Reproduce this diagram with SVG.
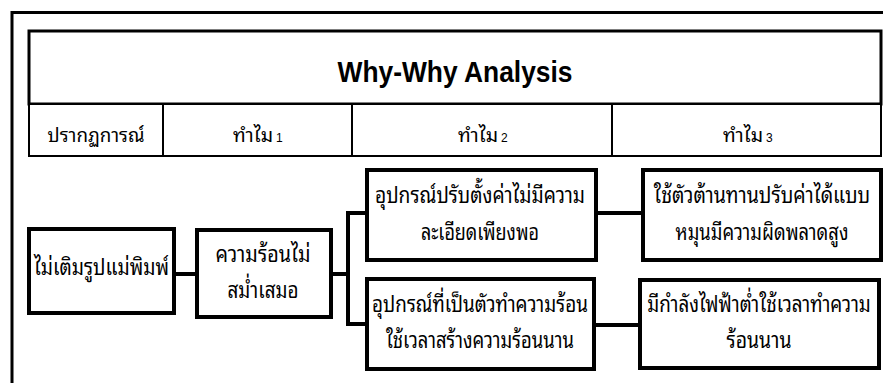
<svg xmlns="http://www.w3.org/2000/svg" width="883" height="383" viewBox="0 0 883 383">
<style>
.frame{fill:none;stroke:#000;stroke-width:3}
.hd{fill:#fff;stroke:#000;stroke-width:2}
.box{fill:#fff;stroke:#000;stroke-width:4}
.ln{fill:none;stroke:#000;stroke-width:4}
.title{font-family:"Liberation Sans",Arial,sans-serif;font-weight:bold;font-size:30px;fill:#000}
.th{font-family:"Noto Sans Thai Looped","Noto Sans Thai","Tlwg Typo","Loma","Garuda","Noto Sans","DejaVu Sans",sans-serif;font-size:20px;fill:#000}
.sub{font-family:"Liberation Sans",Arial,sans-serif;font-size:12px;fill:#000}
.tx{font-family:"Noto Sans Thai Looped","Noto Sans Thai","Tlwg Typo","Loma","Garuda","Noto Sans","DejaVu Sans",sans-serif;font-size:23px;fill:#000}
</style>
<rect width="883" height="383" fill="#fff"/>
<path class="frame" d="M12 390 V12.5 H890"/>
<g id="title">
<rect x="29" y="31" width="852" height="73" fill="#fff" stroke="#000" stroke-width="3"/>
<text class="title" x="455" y="82" text-anchor="middle" textLength="235" lengthAdjust="spacingAndGlyphs">Why-Why Analysis</text>
</g>
<g id="header">
<rect class="hd" x="29" y="104" width="852" height="52"/>
<line x1="163" y1="104" x2="163" y2="156" stroke="#000" stroke-width="2"/>
<line x1="352" y1="104" x2="352" y2="156" stroke="#000" stroke-width="2"/>
<line x1="612" y1="104" x2="612" y2="156" stroke="#000" stroke-width="2"/>
<text class="th" x="96" y="142" text-anchor="middle" textLength="97" lengthAdjust="spacingAndGlyphs">ปรากฏการณ์</text>
<text class="th" x="233" y="142" textLength="40" lengthAdjust="spacingAndGlyphs">ทำไม</text><text class="sub" x="276" y="142">1</text>
<text class="th" x="458" y="142" textLength="40" lengthAdjust="spacingAndGlyphs">ทำไม</text><text class="sub" x="501" y="142">2</text>
<text class="th" x="723" y="142" textLength="40" lengthAdjust="spacingAndGlyphs">ทำไม</text><text class="sub" x="766" y="142">3</text>
</g>
<g id="connectors">
<line class="ln" x1="174" y1="274" x2="197" y2="274"/>
<line class="ln" x1="331" y1="274" x2="348" y2="274"/>
<path class="ln" d="M367 213 H348 V324 H367"/>
<line class="ln" x1="596" y1="213" x2="643" y2="213"/>
<line class="ln" x1="594" y1="325" x2="640" y2="325"/>
</g>
<g id="n1">
<rect class="box" x="29" y="229" width="145" height="84"/>
<text class="tx" x="101.5" y="275" text-anchor="middle" textLength="135" lengthAdjust="spacingAndGlyphs">ไม่เติมรูปแม่พิมพ์</text>
</g>
<g id="n2">
<rect class="box" x="197" y="230" width="134" height="87"/>
<text class="tx" x="263" y="262" text-anchor="middle" textLength="95" lengthAdjust="spacingAndGlyphs">ความร้อนไม่</text>
<text class="tx" x="263" y="298" text-anchor="middle" textLength="71" lengthAdjust="spacingAndGlyphs">สม่ำเสมอ</text>
</g>
<g id="n3">
<rect class="box" x="367" y="170" width="229" height="90"/>
<text class="tx" x="480" y="203" text-anchor="middle" textLength="210" lengthAdjust="spacingAndGlyphs">อุปกรณ์ปรับตั้งค่าไม่มีความ</text>
<text class="tx" x="480" y="240" text-anchor="middle" textLength="118" lengthAdjust="spacingAndGlyphs">ละเอียดเพียงพอ</text>
</g>
<g id="n4">
<rect class="box" x="367" y="279" width="227" height="90"/>
<text class="tx" x="480" y="312" text-anchor="middle" textLength="216" lengthAdjust="spacingAndGlyphs">อุปกรณ์ที่เป็นตัวทำความร้อน</text>
<text class="tx" x="480" y="348" text-anchor="middle" textLength="188" lengthAdjust="spacingAndGlyphs">ใช้เวลาสร้างความร้อนนาน</text>
</g>
<g id="n5">
<rect class="box" x="643" y="170" width="238" height="90"/>
<text class="tx" transform="translate(762 203) scale(0.85 1)" x="0" y="0" text-anchor="middle">ใช้ตัวต้านทานปรับค่าได้แบบ</text>
<text class="tx" transform="translate(762 240) scale(0.8 1)" x="0" y="0" text-anchor="middle">หมุนมีความผิดพลาดสูง</text>
</g>
<g id="n6">
<rect class="box" x="640" y="280" width="239" height="88"/>
<text class="tx" transform="translate(759 312) scale(0.82 1)" x="0" y="0" text-anchor="middle">มีกำลังไฟฟ้าต่ำใช้เวลาทำความ</text>
<text class="tx" x="759" y="348" text-anchor="middle" textLength="65" lengthAdjust="spacingAndGlyphs">ร้อนนาน</text>
</g>
</svg>
